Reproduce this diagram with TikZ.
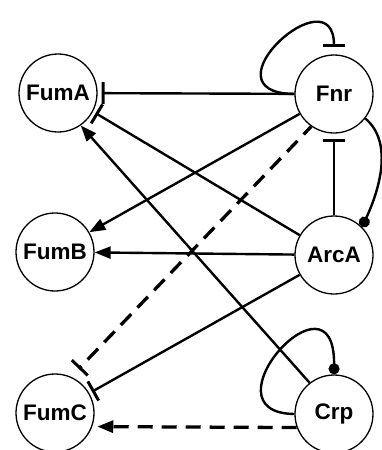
\documentclass[tikz,border=0pt]{standalone}
\usepackage{fontspec}
\setmainfont{Liberation Sans}
\usetikzlibrary{arrows.meta}

\begin{document}
\begin{tikzpicture}[x=1pt,y=-1pt,
	gene/.style={circle, draw, line width=1.3pt, minimum size=78pt, inner sep=0pt, font=\fontsize{22.5}{24}\selectfont\bfseries},
	act/.style={line width=2.4pt, -{Triangle[length=16pt,width=12pt]}},
	inh/.style={line width=2.4pt, -{Bar[width=22pt,line width=3pt]}},
	dot/.style={line width=2.4pt, -{Circle[length=11pt]}},
	dashline/.style={dash pattern=on 15pt off 9pt, line width=3.3pt}]
	\useasboundingbox (0,0) rectangle (382,450);
	%\draw[help lines] (0,0) grid[step=50] (382,450);
	\node[gene] (FumA) at (58,93) {FumA};
	\node[gene] (FumB) at (55,252) {FumB};
	\node[gene] (FumC) at (55,413) {FumC};
	\node[gene] (Fnr) at (334,94) {Fnr};
	\node[gene] (ArcA) at (334,255) {ArcA};
	\node[gene] (Crp) at (334,414) {Crp};
	% Fnr
	\draw[inh, shorten >=4pt] (Fnr) -- (FumA);
	\draw[inh] (Fnr.west) .. controls (200,93) and (334,-28) .. ([yshift=7pt]Fnr.north);
	\draw[act] (Fnr.210) -- (FumB.30);
	\draw[inh, dashline, dash phase=4pt, shorten >=11pt] (Fnr.235) -- (FumC.66);
	\draw[dot] (Fnr.-38) to[out=-40, in=65, looseness=0.9] (ArcA.45);
	% ArcA
	\draw[inh, shorten >=5pt] (ArcA) -- (Fnr);
	\draw[inh, shorten >=3pt] (ArcA.150) -- (FumA.-28);
	\draw[act] (ArcA) -- (FumB);
	\draw[inh, shorten >=3pt] (ArcA.210) -- (FumC.30);
	% Crp
	\draw[act] (Crp.128) -- (FumA.-55);
	\draw[dot] (Crp.west) .. controls (200,413) and (335,262) .. (Crp.north);
	\draw[act, dashline, shorten >=5pt] (Crp.-160) -- (FumC.-20);
\end{tikzpicture}
\end{document}
